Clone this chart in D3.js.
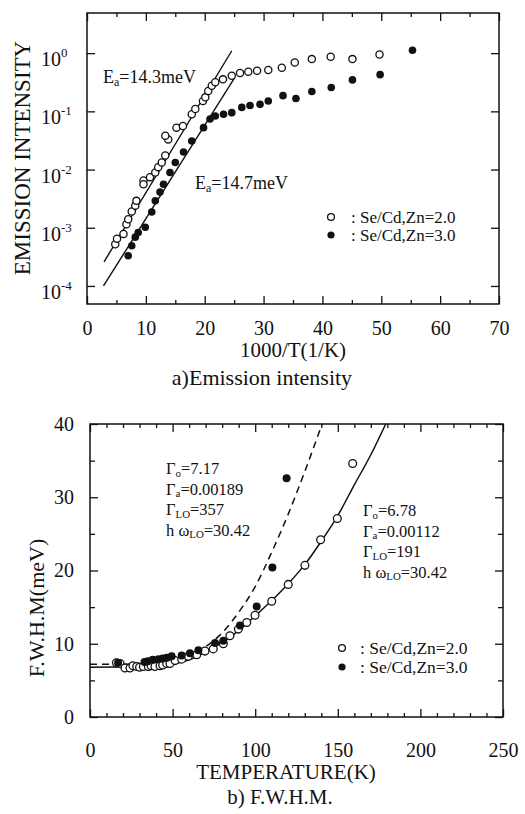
<!DOCTYPE html>
<html>
<head>
<meta charset="utf-8">
<script src="https://cdn.jsdelivr.net/npm/d3@7"></script>
<style>
  body { margin: 0; background: #fff; }
  text { font-family: "Liberation Serif", "Times New Roman", serif; fill: #111; }
</style>
</head>
<body>
<script>
// ---- a) emission intensity vs 1000/T ----
var invTOpen = [4.8, 5.1, 6.2, 6.7, 7.0, 7.6, 8.2, 8.4, 9.6, 9.6, 10.7, 11.6, 12.1, 12.7, 13.3, 13.8, 13.3,
  15.2, 16.3, 17.8, 18.4, 19.7, 20.1, 20.6, 21.2, 21.8, 23.1, 24.6, 26.0, 27.4, 28.9, 30.8,
  33.1, 35.3, 38.2, 41.4, 45.1, 49.7];
var intOpen = [5.2e-4, 6.5e-4, 7.8e-4, 1.15e-3, 1.4e-3, 1.9e-3, 2.4e-3, 2.9e-3, 6.5e-3, 5.6e-3, 7.4e-3, 8.9e-3, 0.011, 0.0132, 0.0174, 0.033, 0.038,
  0.0525, 0.056, 0.089, 0.11, 0.151, 0.174, 0.224, 0.275, 0.316, 0.355, 0.41, 0.457, 0.479, 0.50, 0.513,
  0.56, 0.69, 0.79, 0.87, 0.79, 0.95];
var invTFilled = [7.0, 7.6, 8.2, 8.7, 9.9, 11.0, 11.6, 12.4, 13.0, 14.1, 15.0, 16.4, 17.8, 19.8, 20.9, 21.8,
  23.2, 24.6, 26.3, 27.7, 29.4, 30.8, 33.3, 35.5, 38.2, 41.5, 45.1, 49.8, 55.3];
var intFilled = [3.3e-4, 4.9e-4, 6.9e-4, 8.3e-4, 1.02e-3, 1.86e-3, 2.9e-3, 4.1e-3, 5.6e-3, 8.9e-3, 0.0132, 0.02, 0.031, 0.0525, 0.074, 0.083,
  0.089, 0.095, 0.117, 0.126, 0.132, 0.151, 0.186, 0.166, 0.219, 0.257, 0.347, 0.427, 1.12];
// fitted straight lines (ends)
var fitA = [[2.9, 2.6e-4], [24.6, 1.1]];    // Ea=14.3meV
var fitB = [[2.8, 1.0e-4], [25.1, 0.38]];   // Ea=14.7meV
var invTTicks = [0, 10, 20, 30, 40, 50, 60, 70];
var decadeTicks = [1e-4, 1e-3, 1e-2, 1e-1, 1];
var decadeExp = ["-4", "-3", "-2", "-1", "0"];
var legendA = [": Se/Cd,Zn=2.0", ": Se/Cd,Zn=3.0"];

// ---- b) FWHM vs temperature ----
var tempOpen = [16, 18.2, 21.2, 24.2, 26, 28.3, 30, 32.3, 35.3, 37, 39.3, 42.4, 44, 46.4, 48.4, 51.5, 55.5, 59.5, 64.6,
  69.6, 74.6, 80.7, 84.7, 89.8, 94.9, 99.9, 110, 120, 130.1, 139.6, 149.7, 159];
var fwhmOpen = [7.4, 7.3, 6.7, 6.7, 7.0, 6.9, 6.8, 6.9, 6.9, 7.0, 6.9, 7.0, 7.1, 7.3, 7.3, 7.7, 7.9, 8.3, 8.5,
  9.0, 9.3, 10.0, 11.1, 12.0, 12.9, 13.9, 15.8, 18.1, 20.7, 24.2, 27.1, 34.6];
var tempFilled = [17, 33, 35, 38, 41.4, 44, 46.5, 49.4, 55.5, 60.5, 65.6, 75.7, 80.7, 90.8, 100.9, 110.4, 119];
var fwhmFilled = [7.4, 7.5, 7.6, 7.8, 7.9, 8.0, 8.1, 8.3, 8.4, 8.7, 9.1, 10.1, 10.4, 12.5, 15.1, 20.4, 32.6];
var solidT = [0, 30, 50, 60, 70, 80, 90, 100, 110, 120, 130, 140, 150, 160, 170, 179];
var solidW = [6.8, 6.85, 7.2, 7.8, 8.9, 10.2, 11.8, 13.8, 15.9, 18.2, 20.8, 24.0, 27.5, 31.7, 35.8, 40];
var dashT = [0, 20, 40, 50, 60, 70, 80, 90, 100, 110, 120, 130, 140.5];
var dashW = [7.2, 7.2, 7.3, 7.6, 8.3, 9.6, 11.5, 14.3, 17.8, 22.5, 27.7, 33.5, 40];
var tempTicks = [0, 50, 100, 150, 200, 250];
var fwhmTicks = [0, 10, 20, 30, 40];
var fitLeft = [["\u0393", "o", "=7.17"], ["\u0393", "a", "=0.00189"], ["\u0393", "LO", "=357"], ["h \u03c9", "LO", "=30.42"]];
var fitRight = [["\u0393", "o", "=6.78"], ["\u0393", "a", "=0.00112"], ["\u0393", "LO", "=191"], ["h \u03c9", "LO", "=30.42"]];

var svg = d3.select("body").append("svg").attr("width", 525).attr("height", 814);
svg.append("rect").attr("width", 525).attr("height", 814).attr("fill", "#fff");

function styleAxis(g, size) {
  g.attr("font-size", size).attr("color", "#111");
  g.select(".domain").remove();
  g.selectAll(".tick line").attr("stroke-width", 1.3);
}

// subscripted label, e.g. E_a=14.3meV
function subText(x, y, base, sub, rest, size) {
  var t = svg.append("text").attr("x", x).attr("y", y).attr("font-size", size);
  t.append("tspan").text(base);
  t.append("tspan").attr("dy", size * 0.18).attr("font-size", size * 0.66).text(sub);
  t.append("tspan").attr("dy", -size * 0.18).text(rest);
}

// ================= plot a =================
var xa = d3.scaleLinear().domain([0, 70]).range([87, 499]);
var ya = d3.scaleLog().domain([Math.pow(10, -4.31), Math.pow(10, 0.69)]).range([304, 13]);

svg.append("g").attr("transform", "translate(0,304)")
  .call(d3.axisBottom(xa).tickValues(invTTicks).tickSize(-8).tickPadding(17))
  .call(styleAxis, 20);
svg.append("g").attr("transform", "translate(0,304)")
  .call(d3.axisBottom(xa).tickValues(d3.range(5, 70, 10)).tickSize(-4).tickFormat(""))
  .call(styleAxis, 20);
svg.append("g").attr("transform", "translate(0,13)")
  .call(d3.axisTop(xa).tickValues(invTTicks).tickSize(-8).tickFormat(""))
  .call(styleAxis, 20);
svg.append("g").attr("transform", "translate(0,13)")
  .call(d3.axisTop(xa).tickValues(d3.range(5, 70, 10)).tickSize(-4).tickFormat(""))
  .call(styleAxis, 20);
svg.append("g").attr("transform", "translate(87,0)")
  .call(d3.axisLeft(ya).tickValues(decadeTicks).tickSize(-8).tickFormat(""))
  .call(styleAxis, 20);
svg.append("g").attr("transform", "translate(499,0)")
  .call(d3.axisRight(ya).tickValues(decadeTicks).tickSize(-8).tickFormat(""))
  .call(styleAxis, 20);

decadeTicks.forEach(function (v, i) {
  var t = svg.append("text").attr("x", 41).attr("y", ya(v) + 13).attr("font-size", 20);
  t.append("tspan").text("10");
  t.append("tspan").attr("dy", -9).attr("font-size", 13).text(decadeExp[i]);
});

svg.append("rect").attr("x", 87).attr("y", 13).attr("width", 412).attr("height", 291)
  .attr("fill", "none").attr("stroke", "#111").attr("stroke-width", 1.5);

var lineA = d3.line().x(function (d) { return xa(d[0]); }).y(function (d) { return ya(d[1]); });
[fitA, fitB].forEach(function (f) {
  svg.append("path").attr("d", lineA(f)).attr("fill", "none").attr("stroke", "#111").attr("stroke-width", 1.4);
});

svg.append("g").selectAll("circle").data(d3.range(invTOpen.length)).join("circle")
  .attr("cx", function (i) { return xa(invTOpen[i]); })
  .attr("cy", function (i) { return ya(intOpen[i]); })
  .attr("r", 3.6).attr("fill", "#fff").attr("stroke", "#111").attr("stroke-width", 1.3);
svg.append("g").selectAll("circle").data(d3.range(invTFilled.length)).join("circle")
  .attr("cx", function (i) { return xa(invTFilled[i]); })
  .attr("cy", function (i) { return ya(intFilled[i]); })
  .attr("r", 3.8).attr("fill", "#111");

subText(103, 83, "E", "a", "=14.3meV", 18);
subText(195, 189, "E", "a", "=14.7meV", 18);

svg.append("circle").attr("cx", 331).attr("cy", 217).attr("r", 3.4)
  .attr("fill", "#fff").attr("stroke", "#111").attr("stroke-width", 1.3);
svg.append("circle").attr("cx", 331).attr("cy", 235).attr("r", 3.6).attr("fill", "#111");
legendA.forEach(function (s, i) {
  svg.append("text").attr("x", 351).attr("y", 223 + i * 18).attr("font-size", 17).text(s);
});

svg.append("text").attr("transform", "translate(22,158) rotate(-90)")
  .attr("text-anchor", "middle").attr("dy", "0.35em").attr("font-size", 23).text("EMISSION INTENSITY");
svg.append("text").attr("x", 293).attr("y", 357).attr("text-anchor", "middle")
  .attr("font-size", 21).text("1000/T(1/K)");
svg.append("text").attr("x", 262).attr("y", 385).attr("text-anchor", "middle")
  .attr("font-size", 22).text("a)Emission intensity");

// ================= plot b =================
var xb = d3.scaleLinear().domain([0, 250]).range([90, 503]);
var yb = d3.scaleLinear().domain([0, 40]).range([717, 424]);
var minorT = d3.range(10, 250, 10).filter(function (v) { return v % 50; });

svg.append("g").attr("transform", "translate(0,717)")
  .call(d3.axisBottom(xb).tickValues(tempTicks).tickSize(-8).tickPadding(26))
  .call(styleAxis, 20);
svg.append("g").attr("transform", "translate(0,717)")
  .call(d3.axisBottom(xb).tickValues(minorT).tickSize(-4).tickFormat(""))
  .call(styleAxis, 20);
svg.append("g").attr("transform", "translate(0,424)")
  .call(d3.axisTop(xb).tickValues(tempTicks).tickSize(-8).tickFormat(""))
  .call(styleAxis, 20);
svg.append("g").attr("transform", "translate(0,424)")
  .call(d3.axisTop(xb).tickValues(minorT).tickSize(-4).tickFormat(""))
  .call(styleAxis, 20);
svg.append("g").attr("transform", "translate(90,0)")
  .call(d3.axisLeft(yb).tickValues(fwhmTicks).tickSize(-8).tickPadding(16))
  .call(styleAxis, 20);
svg.append("g").attr("transform", "translate(90,0)")
  .call(d3.axisLeft(yb).tickValues([5, 15, 25, 35]).tickSize(-5).tickFormat(""))
  .call(styleAxis, 20);
svg.append("g").attr("transform", "translate(503,0)")
  .call(d3.axisRight(yb).tickValues(fwhmTicks).tickSize(-8).tickFormat(""))
  .call(styleAxis, 20);
svg.append("g").attr("transform", "translate(503,0)")
  .call(d3.axisRight(yb).tickValues([5, 15, 25, 35]).tickSize(-5).tickFormat(""))
  .call(styleAxis, 20);

var lineB = d3.line().curve(d3.curveMonotoneX)
  .x(function (d) { return xb(d[0]); }).y(function (d) { return yb(d[1]); });
svg.append("path").attr("d", lineB(d3.zip(solidT, solidW)))
  .attr("fill", "none").attr("stroke", "#111").attr("stroke-width", 1.5);
svg.append("path").attr("d", lineB(d3.zip(dashT, dashW)))
  .attr("fill", "none").attr("stroke", "#111").attr("stroke-width", 1.5).attr("stroke-dasharray", "7,5");

svg.append("g").selectAll("circle").data(d3.range(tempOpen.length)).join("circle")
  .attr("cx", function (i) { return xb(tempOpen[i]); })
  .attr("cy", function (i) { return yb(fwhmOpen[i]); })
  .attr("r", 3.9).attr("fill", "#fff").attr("stroke", "#111").attr("stroke-width", 1.3);
svg.append("g").selectAll("circle").data(d3.range(tempFilled.length)).join("circle")
  .attr("cx", function (i) { return xb(tempFilled[i]); })
  .attr("cy", function (i) { return yb(fwhmFilled[i]); })
  .attr("r", 4).attr("fill", "#111");

svg.append("rect").attr("x", 90).attr("y", 424).attr("width", 413).attr("height", 293)
  .attr("fill", "none").attr("stroke", "#111").attr("stroke-width", 1.5);

fitLeft.forEach(function (p, i) { subText(166, 474 + i * 20.5, p[0], p[1], p[2], 16.5); });
fitRight.forEach(function (p, i) { subText(363, 516 + i * 20.5, p[0], p[1], p[2], 16.5); });

svg.append("circle").attr("cx", 342).attr("cy", 648).attr("r", 3.4)
  .attr("fill", "#fff").attr("stroke", "#111").attr("stroke-width", 1.3);
svg.append("circle").attr("cx", 342).attr("cy", 667).attr("r", 3.6).attr("fill", "#111");
legendA.forEach(function (s, i) {
  svg.append("text").attr("x", 360).attr("y", 654 + i * 19).attr("font-size", 17.5).text(s);
});

svg.append("text").attr("transform", "translate(36,608) rotate(-90)")
  .attr("text-anchor", "middle").attr("dy", "0.35em").attr("font-size", 22).text("F.W.H.M(meV)");
svg.append("text").attr("x", 286).attr("y", 779).attr("text-anchor", "middle")
  .attr("font-size", 21).text("TEMPERATURE(K)");
svg.append("text").attr("x", 280).attr("y", 804).attr("text-anchor", "middle")
  .attr("font-size", 21).text("b) F.W.H.M.");
</script>
</body>
</html>
